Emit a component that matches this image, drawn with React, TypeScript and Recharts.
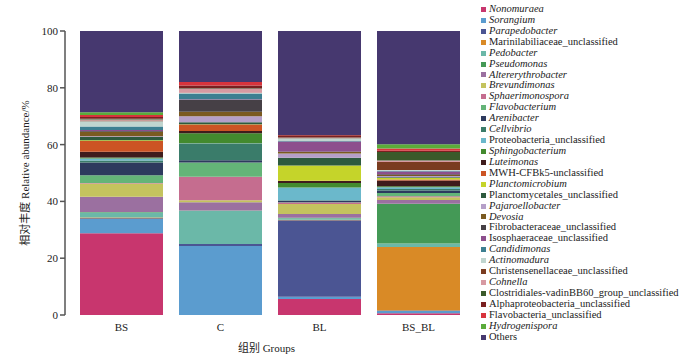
import React from 'react';
import { BarChart, Bar, XAxis, YAxis, Label } from 'recharts';

const groups = ['BS', 'C', 'BL', 'BS_BL'];

const taxa = [
  'Nonomuraea', 'Sorangium', 'Parapedobacter', 'Marinilabiliaceae_unclassified', 'Pedobacter',
  'Pseudomonas', 'Altererythrobacter', 'Brevundimonas', 'Sphaerimonospora', 'Flavobacterium',
  'Arenibacter', 'Cellvibrio', 'Proteobacteria_unclassified', 'Sphingobacterium', 'Luteimonas',
  'MWH-CFBk5-unclassified', 'Planctomicrobium', 'Planctomycetales_unclassified', 'Pajaroellobacter', 'Devosia',
  'Fibrobacteraceae_unclassified', 'Isosphaeraceae_unclassified', 'Candidimonas', 'Actinomadura', 'Christensenellaceae_unclassified',
  'Cohnella', 'Clostridiales-vadinBB60_group_unclassified', 'Alphaproteobacteria_unclassified', 'Flavobacteria_unclassified', 'Hydrogenispora',
  'Others',
];

const colors = [
  '#c8366e', '#5b9ccf', '#4b5593', '#d98a26', '#6bb8a8',
  '#449956', '#9b70a0', '#c4c35e', '#c56d8f', '#64b478',
  '#2d3a5e', '#3a7c6a', '#6bb8cb', '#438a2e', '#3f1c1c',
  '#cc5424', '#c5d42a', '#2d5a3e', '#b59fc8', '#7a5a20',
  '#464046', '#8d4f8d', '#3d7f91', '#c0d5cf', '#7a3c20',
  '#d79aa2', '#3a5a2a', '#7a2020', '#d8343c', '#5aab3a',
  '#46386f',
];

// genus names are set in italics in the legend
const italicTaxa = [
  'Nonomuraea', 'Sorangium', 'Parapedobacter', 'Pedobacter', 'Pseudomonas', 'Altererythrobacter',
  'Brevundimonas', 'Sphaerimonospora', 'Flavobacterium', 'Arenibacter', 'Cellvibrio', 'Sphingobacterium',
  'Luteimonas', 'Planctomicrobium', 'Pajaroellobacter', 'Devosia', 'Candidimonas', 'Actinomadura',
  'Cohnella', 'Hydrogenispora',
];

// relative abundance (%) per taxon, same order as taxa
const bsValues = [
  28.8, 5.0, 0.3, 0.2, 1.8, 0.2, 5.3, 4.7, 0.2, 2.7,
  4.5, 0.7, 0.7, 0.4, 2.0, 3.8, 0.2, 1.2, 0.2, 1.6,
  0.3, 0.3, 1.3, 1.8, 0.3, 0.3, 0.3, 0.6, 0.7, 1.0,
  28.6,
];
const cValues = [
  0, 24.3, 0.7, 0, 11.7, 0.1, 2.9, 0.7, 8.3, 5.0,
  0.8, 5.9, 0.1, 3.5, 0.8, 2.3, 0.1, 0.7, 2.1, 1.6,
  4.2, 0.2, 2.0, 0.2, 0.1, 1.4, 0.1, 1.0, 1.2, 0,
  18.0,
];
const blValues = [
  5.6, 0.8, 27.0, 0.1, 0.6, 0.1, 1.4, 3.5, 0.5, 0.1,
  0.5, 0.2, 4.5, 1.6, 0.7, 0.1, 5.3, 2.8, 1.5, 0.5,
  0.2, 3.5, 0.2, 0.9, 0.1, 0.1, 0.1, 0.8, 0.1, 0,
  36.6,
];
const bsblValues = [
  0.6, 0.8, 0.2, 22.3, 1.3, 14.0, 1.3, 1.0, 0.3, 1.2,
  0.8, 0.6, 0.6, 0.3, 2.1, 0.3, 0.5, 0.3, 0.4, 0.4,
  0.3, 0.9, 0.3, 0.3, 2.8, 0.5, 3.0, 0.4, 0.8, 1.5,
  39.9,
];

const yTicks = [0, 20, 40, 60, 80, 100];

const groupValues = [bsValues, cValues, blValues, bsblValues];

const data = groups.map((g, gi) => {
  const row: Record<string, number | string> = { group: g };
  taxa.forEach((t, i) => {
    row[t] = groupValues[gi][i];
  });
  return row;
});

const FONT = '"Liberation Serif", "Noto Sans CJK SC", serif';

const TaxaLegend = () => (
  <div style={{ position: 'absolute', left: 481, top: 4, fontFamily: FONT, fontSize: 10.5, color: '#222' }}>
    {taxa.map((t, i) => (
      <div key={t} style={{ display: 'flex', alignItems: 'center', height: 10.93, lineHeight: '10.93px', whiteSpace: 'nowrap' }}>
        <span style={{ display: 'inline-block', width: 5, height: 5, background: colors[i], marginRight: 3 }} />
        <span style={{ fontStyle: italicTaxa.includes(t) ? 'italic' : 'normal' }}>{t}</span>
      </div>
    ))}
  </div>
);

export default function App() {
  return (
    <div style={{ position: 'absolute', left: 0, top: 0, width: 700, height: 354, background: '#fff', fontFamily: FONT }}>
      <BarChart
        width={700}
        height={354}
        data={data}
        margin={{ top: 31, right: 232, bottom: 0, left: 0 }}
        barSize={83}
      >
        <XAxis
          dataKey="group"
          height={39}
          axisLine={false}
          tickLine={false}
          padding={{ left: 7, right: 0 }}
          tick={{ fontSize: 11, fill: '#222', fontFamily: FONT }}
        >
          <Label
            value="组别 Groups"
            position="insideBottom"
            offset={2}
            style={{ fontSize: 11, fill: '#222', fontFamily: FONT }}
          />
        </XAxis>
        <YAxis
          width={65}
          domain={[0, 100]}
          ticks={yTicks}
          axisLine={{ stroke: '#555', strokeWidth: 1.5 }}
          tickLine={{ stroke: '#555', strokeWidth: 1.5 }}
          tickSize={5}
          tick={{ fontSize: 11, fill: '#222', fontFamily: FONT }}
        >
          <Label
            value="相对丰度  Relative abundance/%"
            angle={-90}
            position="insideLeft"
            offset={25}
            style={{ textAnchor: 'middle', fontSize: 11, fill: '#222', fontFamily: FONT }}
          />
        </YAxis>
        {taxa.map((t, i) => (
          <Bar key={t} dataKey={t} stackId="a" fill={colors[i]} isAnimationActive={false} />
        ))}
      </BarChart>
      <TaxaLegend />
    </div>
  );
}
